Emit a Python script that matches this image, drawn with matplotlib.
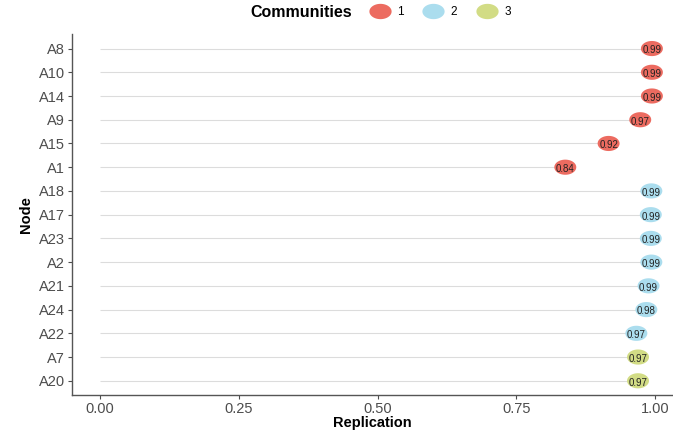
import numpy as np
import matplotlib
matplotlib.use("Agg")
import matplotlib.pyplot as plt
from matplotlib.lines import Line2D

plt.rcParams["font.family"] = ["Liberation Sans", "DejaVu Sans"]

# data (top to bottom)
nodes = ["A8", "A10", "A14", "A9", "A15", "A1", "A18", "A17", "A23",
         "A2", "A21", "A24", "A22", "A7", "A20"]
replication = [0.994, 0.994, 0.994, 0.973, 0.916, 0.838, 0.993, 0.992, 0.992,
               0.993, 0.988, 0.984, 0.966, 0.969, 0.969]
community = [1, 1, 1, 1, 1, 1, 2, 2, 2, 2, 2, 2, 2, 3, 3]
comm_labels = ["1", "2", "3"]
comm_colors = {1: "#EC6B60", 2: "#ABDDEE", 3: "#D2DC85"}

# ellipse marker (wider than tall)
t = np.linspace(0, 2 * np.pi, 60)
ellipse = list(zip(1.45 * np.cos(t), np.sin(t)))

fig = plt.figure(figsize=(6.73, 4.32), dpi=100)
ax = fig.add_axes([0.107, 0.0856, 0.893, 0.835])

y = np.arange(len(nodes))[::-1]

# lollipop stems
ax.hlines(y, 0, replication, color="#DCDCDC", lw=0.8, zorder=1)

for c in [1, 2, 3]:
    idx = [i for i, k in enumerate(community) if k == c]
    ax.scatter([replication[i] for i in idx], [y[i] for i in idx],
               marker=ellipse, s=250, color=comm_colors[c], edgecolor="none", zorder=2)

for yi, v in zip(y, replication):
    ax.text(v, yi - 0.08, f"{v:.2f}", ha="center", va="center", fontsize=7, color="#222222", zorder=3)

ax.set_xlim(-0.0505, 1.032)
ax.set_ylim(-0.6, len(nodes) - 0.4)
ax.set_yticks(y)
ax.set_yticklabels(nodes)
ax.set_xticks([0, 0.25, 0.5, 0.75, 1.0])
ax.set_xticklabels(["0.00", "0.25", "0.50", "0.75", "1.00"])
ax.tick_params(axis="both", labelsize=10.5, labelcolor="#4D4D4D", color="#4D4D4D", length=3, width=0.8, pad=2)

for s in ["top", "right"]:
    ax.spines[s].set_visible(False)
for s in ["left", "bottom"]:
    ax.spines[s].set_color("#555555")
    ax.spines[s].set_linewidth(1.0)

ax.set_xlabel("Replication", fontsize=10.5, fontweight="bold", labelpad=0)
ax.set_ylabel("Node", fontsize=10.5, fontweight="bold", labelpad=4)

# legend across the top
fig.text(0.372, 0.972, "Communities", fontsize=11.5, fontweight="bold", ha="left", va="center")
handles = [Line2D([], [], marker=ellipse, linestyle="none", markersize=16,
                  markerfacecolor=comm_colors[c], markeredgecolor="none") for c in [1, 2, 3]]
fig.legend(handles, comm_labels, loc="center left", bbox_to_anchor=(0.549, 0.972), ncol=3,
           frameon=False, fontsize=8.5, handletextpad=0.6, columnspacing=1.7,
           handlelength=1.7, borderaxespad=0, borderpad=0)

fig.savefig("out.png", dpi=100)
